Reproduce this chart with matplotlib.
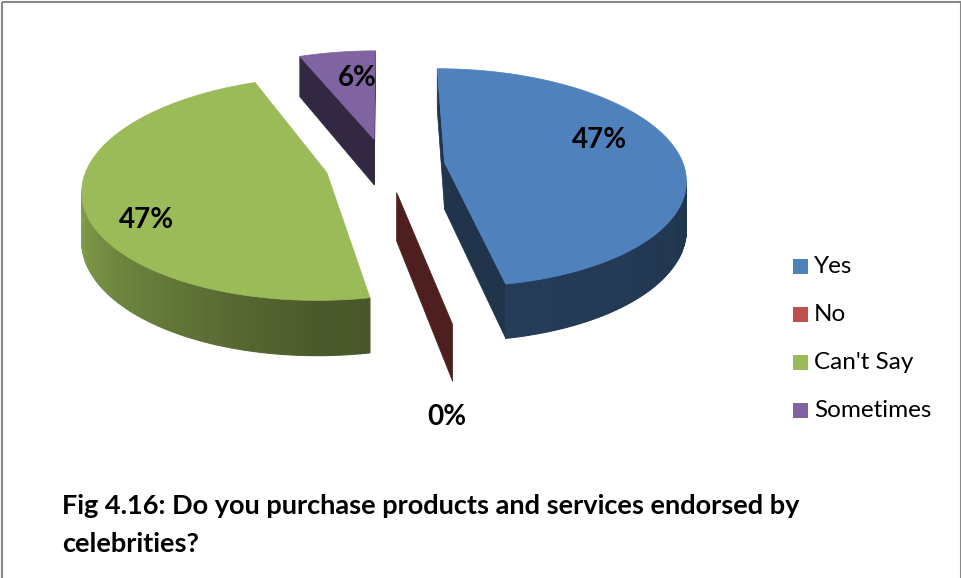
import numpy as np
import matplotlib
matplotlib.use('Agg')
import matplotlib.pyplot as plt
from matplotlib.patches import Polygon, Rectangle
from matplotlib.colors import to_rgb

# survey answers
categories = ["Yes", "No", "Can't Say", "Sometimes"]
values = [47, 0, 47, 6]
colors = ['#4F81BD', '#C0504D', '#9BBB59', '#8064A2']
title = "Fig 4.16: Do you purchase products and services endorsed by\ncelebrities?"

# 3D pie geometry, in pixels
cx, cy = 385, 165      # centre of the top face
R = 239                # radius
explode = 60           # radial pull-out of each slice
tilt = 0.45            # vertical squash of the disc
persp = 0.14           # far side shrinks a little
depth = 47             # thickness

# small hand nudges for the percentage labels (px)
label_nudge = [(-9, -15), (-9, 27), (-12, 25), (10, 2)]

plt.rcParams['font.family'] = ['Lato', 'DejaVu Sans']


def project(X, Y, Z):
    s = 1.0 / (1.0 + persp * Y / R)
    return cx + X * s, cy - (tilt * Y + Z) * s


def newell(pts):
    n = np.zeros(3)
    for i in range(len(pts)):
        a, b = pts[i], pts[(i + 1) % len(pts)]
        n[0] += (a[1] - b[1]) * (a[2] + b[2])
        n[1] += (a[2] - b[2]) * (a[0] + b[0])
        n[2] += (a[0] - b[0]) * (a[1] + b[1])
    return n


def signed_area(xy):
    x, y = xy[:, 0], xy[:, 1]
    return 0.5 * np.sum(x * np.roll(y, -1) - np.roll(x, -1) * y)


def to_screen(pts):
    return np.array([project(*p) for p in pts])


# winding of a face seen from the front
ref = to_screen(np.array([[0, 0, 0], [1, 0, 0], [0, 1, 0]], float))
front_sign = np.sign(signed_area(ref))


def draw_face(ax, pts, outward, color, lw=0.0):
    pts = np.asarray(pts, float)
    if np.dot(newell(pts), outward) < 0:
        pts = pts[::-1]
    xy = to_screen(pts)
    area = signed_area(xy)
    if np.sign(area) != front_sign or abs(area) < 1e-6:
        return
    ax.add_patch(Polygon(xy, closed=True, facecolor=color,
                         edgecolor=color if lw else 'none', linewidth=lw))


def wall_shade(theta):
    t = theta % 360
    return np.interp(t, [0, 90, 180, 270, 360], [0.60, 0.40, 0.48, 0.90, 0.60])


def rim(ox, oy, r, t, z):
    tr = np.radians(t)
    return [ox + r * np.sin(tr), oy + r * np.cos(tr), z]


fig = plt.figure(figsize=(9.62, 5.78), dpi=100)
ax = fig.add_axes([0, 0, 1, 1])
ax.set_xlim(0, 962)
ax.set_ylim(578, 0)
ax.axis('off')

total = float(sum(values))
bounds = np.concatenate([[0], np.cumsum(values)]) / total * 360.0

slices = []
for i, v in enumerate(values):
    a0, a1 = bounds[i], bounds[i + 1]
    mid = np.radians((a0 + a1) / 2)
    ox, oy = explode * np.sin(mid), explode * np.cos(mid)
    slices.append((i, a0, a1, ox, oy))

# paint far slices first
for i, a0, a1, ox, oy in sorted(slices, key=lambda s: -s[4]):
    base = np.array(to_rgb(colors[i]))
    vt = [ox, oy, 0.0]
    vb = [ox, oy, -depth]

    # radial cut faces
    for a, side in ((a0, -90), (a1, 90)):
        n = np.radians(a + side)
        outward = np.array([np.sin(n), np.cos(n), 0.0])
        face = [vt, rim(ox, oy, R, a, 0), rim(ox, oy, R, a, -depth), vb]
        draw_face(ax, face, outward, base * 0.40, lw=0.5)

    # outer wall, shaded strip by strip
    if a1 > a0:
        ts = np.linspace(a0, a1, max(int(a1 - a0), 2) + 1)
        for t0, t1 in zip(ts[:-1], ts[1:]):
            tm = np.radians((t0 + t1) / 2)
            outward = np.array([np.sin(tm), np.cos(tm), 0.0])
            quad = [rim(ox, oy, R, t0, 0), rim(ox, oy, R, t1, 0),
                    rim(ox, oy, R, t1, -depth), rim(ox, oy, R, t0, -depth)]
            c = np.clip(base * wall_shade((t0 + t1) / 2), 0, 1)
            draw_face(ax, quad, outward, c, lw=0.8)

        # top face
        arc = [rim(ox, oy, R, t, 0) for t in np.linspace(a0, a1, 200)]
        draw_face(ax, [vt] + arc, np.array([0, 0, 1.0]), base, lw=0.5)

# percentage labels
for i, a0, a1, ox, oy in slices:
    pct = "%d%%" % round(values[i] / total * 100)
    mid = np.radians((a0 + a1) / 2)
    dx, dy = label_nudge[i]
    if values[i] / total >= 0.02:
        r = 0.7 * R
        lx, ly = project(ox + r * np.sin(mid), oy + r * np.cos(mid), 0)
    else:
        r = 1.05 * R
        lx, ly = project(ox + r * np.sin(mid), oy + r * np.cos(mid), -depth)
    ax.text(lx + dx, ly + dy, pct, ha='center', va='center', fontsize=20,
            fontweight='bold', color='black')

# legend
for i, (cat, col) in enumerate(zip(categories, colors)):
    y = 266.5 + i * 48
    ax.add_patch(Rectangle((793, y - 7.5), 15, 15, facecolor=col, edgecolor='none'))
    ax.text(814, y, cat, ha='left', va='center', fontsize=17.5, color='black')

ax.text(62, 525, title, ha='left', va='center', fontsize=19.5,
        fontweight='bold', color='black', linespacing=1.75)

# chart frame
ax.add_patch(Rectangle((2, 2), 959, 600, facecolor='none',
                       edgecolor='#878787', linewidth=1.5, clip_on=False))

fig.savefig('out.png', dpi=100)
